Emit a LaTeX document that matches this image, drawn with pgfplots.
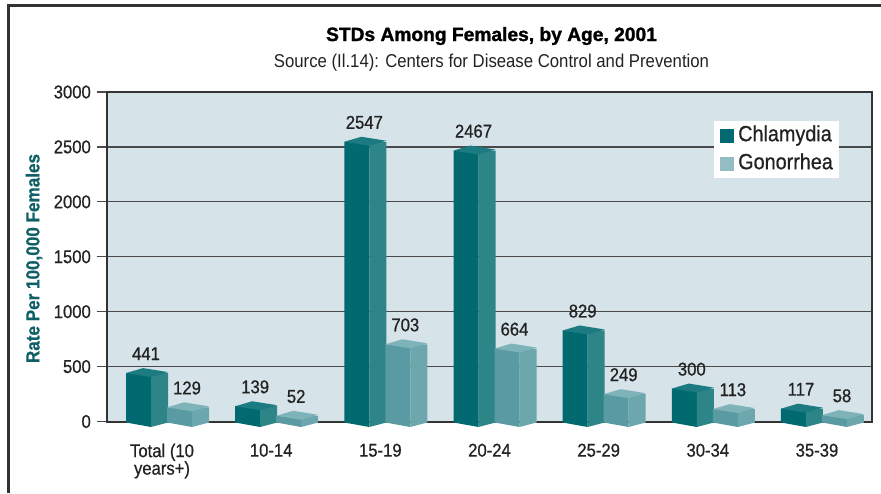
\documentclass[border=0pt]{standalone}
\usepackage{pgfplots}
\pgfplotsset{compat=1.18}
\usepackage{pgfplotstable}
\usepackage{fontspec}
\setmainfont{Liberation Sans}[FakeStretch=0.9]
\newfontfamily\medfont{Liberation Sans}[FakeStretch=0.9, FakeBold=0.7]
\newfontfamily\titlefont{Liberation Sans Bold}[FakeBold=1.4]
\newfontfamily\ylabfont{Liberation Sans Bold}[FakeStretch=0.9, FakeBold=0.6]

\definecolor{chfront}{HTML}{006A70}
\definecolor{chside}{HTML}{2E8588}
\definecolor{chtop}{HTML}{1C7B80}
\definecolor{gofront}{HTML}{5A9AA2}
\definecolor{goside}{HTML}{6CA7AE}
\definecolor{gotop}{HTML}{7DB3B9}
\definecolor{golegend}{HTML}{93BCC4}
\definecolor{bgcol}{HTML}{D6E4EA}
\definecolor{gridcol}{HTML}{4A4A4A}
\definecolor{framecol}{HTML}{333333}
\definecolor{ylabcol}{HTML}{0E5F66}
\definecolor{txtcol}{HTML}{222222}

\pgfplotstableread{
x ch go base
0 441 129 0
1 139 52 0
2 2547 703 0
3 2467 664 0
4 829 249 0
5 300 113 0
6 117 58 0
}\datatable

% top faces (drawn at the data value)
\pgfdeclareplotmark{chtopface}{%
  \pgfsetfillcolor{chtop}%
  \pgfpathmoveto{\pgfpoint{-36pt}{0pt}}%
  \pgfpathlineto{\pgfpoint{-11pt}{-4pt}}%
  \pgfpathlineto{\pgfpoint{6pt}{1pt}}%
  \pgfpathlineto{\pgfpoint{-19pt}{5pt}}%
  \pgfpathclose
  \pgfusepath{fill}%
}
\pgfdeclareplotmark{gotopface}{%
  \pgfsetfillcolor{gotop}%
  \pgfpathmoveto{\pgfpoint{5pt}{0pt}}%
  \pgfpathlineto{\pgfpoint{30pt}{-4pt}}%
  \pgfpathlineto{\pgfpoint{47pt}{1pt}}%
  \pgfpathlineto{\pgfpoint{22pt}{5pt}}%
  \pgfpathclose
  \pgfusepath{fill}%
}
% bottom wedges (drawn at the base value 0)
\pgfdeclareplotmark{chbotface}{%
  \pgfsetfillcolor{chfront}%
  \pgfpathmoveto{\pgfpoint{-36pt}{0.5pt}}%
  \pgfpathlineto{\pgfpoint{-11pt}{0.5pt}}%
  \pgfpathlineto{\pgfpoint{-11pt}{-5.5pt}}%
  \pgfpathlineto{\pgfpoint{-36pt}{-1pt}}%
  \pgfpathclose
  \pgfusepath{fill}%
  \pgfsetfillcolor{chside}%
  \pgfpathmoveto{\pgfpoint{-11pt}{0.5pt}}%
  \pgfpathlineto{\pgfpoint{6pt}{0.5pt}}%
  \pgfpathlineto{\pgfpoint{6pt}{-1pt}}%
  \pgfpathlineto{\pgfpoint{-11pt}{-5.5pt}}%
  \pgfpathclose
  \pgfusepath{fill}%
}
\pgfdeclareplotmark{gobotface}{%
  \pgfsetfillcolor{gofront}%
  \pgfpathmoveto{\pgfpoint{5pt}{0.5pt}}%
  \pgfpathlineto{\pgfpoint{30pt}{0.5pt}}%
  \pgfpathlineto{\pgfpoint{30pt}{-5.5pt}}%
  \pgfpathlineto{\pgfpoint{5pt}{-1pt}}%
  \pgfpathclose
  \pgfusepath{fill}%
  \pgfsetfillcolor{goside}%
  \pgfpathmoveto{\pgfpoint{30pt}{0.5pt}}%
  \pgfpathlineto{\pgfpoint{47pt}{0.5pt}}%
  \pgfpathlineto{\pgfpoint{47pt}{-1pt}}%
  \pgfpathlineto{\pgfpoint{30pt}{-5.5pt}}%
  \pgfpathclose
  \pgfusepath{fill}%
}

\begin{document}
\begin{tikzpicture}
\useasboundingbox (0pt,0pt) rectangle (881pt,-493pt);
\draw[line width=2.5pt, color=framecol] (8.3pt,-493pt) -- (8.3pt,-5.5pt) -- (881pt,-5.5pt);
\node[anchor=base, inner sep=0pt, text=black, font=\titlefont\fontsize{19.2}{20}\selectfont] at (491.5pt,-41pt) {STDs Among Females, by Age, 2001};
\node[anchor=base, inner sep=0pt, text=txtcol, font=\fontsize{18.6}{20}\selectfont] at (491.5pt,-67.7pt) {Source (Il.14): Centers for Disease Control and Prevention};
\begin{axis}[
  at={(107pt,-421.5pt)}, anchor=south west,
  scale only axis, width=765pt, height=329.5pt,
  xmin=-0.504, xmax=6.504, ymin=0, ymax=3000,
  clip=false,
  axis background/.style={fill=bgcol},
  axis line style={line width=2pt, draw=framecol},
  ymajorgrids, grid style={line width=1.3pt, draw=gridcol},
  ytick={0,500,1000,1500,2000,2500,3000},
  xtick={0,1,2,3,4,5,6},
  xticklabels={{Total (10\\years+)},10-14,15-19,20-24,25-29,30-34,35-39},
  xtick style={draw=none},
  ytick style={line width=1.3pt, draw=gridcol},
  ytick pos=left, xtick pos=bottom,
  tick align=outside, major tick length=10pt,
  /pgf/number format/1000 sep={},
  /pgf/number format/assume math mode=true,
  yticklabel style={font=\medfont\fontsize{18.5}{20}\selectfont, text=txtcol, inner sep=0pt, xshift=-6pt},
  xticklabel style={font=\medfont\fontsize{18.5}{17.5}\selectfont, text=txtcol, align=center, inner sep=0pt, anchor=north, yshift=-12pt},
  ylabel={Rate Per 100,000 Females},
  ylabel style={font=\ylabfont\fontsize{19}{20}\selectfont, text=ylabcol, at={(axis description cs:-0.0954,0.4947)}, anchor=center},
  legend image code/.code={\fill[#1] (0pt,-7pt) rectangle (14pt,7pt);},
  legend style={at={(0.7935,0.912)}, anchor=north west, draw=none, fill=white,
    inner xsep=6pt, inner ysep=4pt, font=\medfont\fontsize{22}{22}\selectfont,
    nodes={inner sep=0pt, text height=16pt, text depth=5pt, text=txtcol},
    row sep=7pt, column sep=4pt},
  legend cell align=left,
]
\addlegendimage{fill=chfront, draw=none}
\addlegendentry{Chlamydia}
\addlegendimage{fill=golegend, draw=none}
\addlegendentry{Gonorrhea}
% Chlamydia
\addplot[forget plot, ybar, bar width=25pt, bar shift=-23.5pt, fill=chfront, draw=none] table[x=x, y=ch] {\datatable};
\addplot[forget plot, ybar, bar width=17pt, bar shift=-2.5pt, fill=chside, draw=none] table[x=x, y=ch] {\datatable};
\addplot[forget plot, only marks, mark=chbotface] table[x=x, y=base] {\datatable};
\addplot[forget plot, only marks, mark=chtopface,
  nodes near coords,
  every node near coord/.append style={font=\medfont\fontsize{18.5}{20}\selectfont, text=txtcol, anchor=base, inner sep=0pt, xshift=-16pt, yshift=13pt}]
  table[x=x, y=ch] {\datatable};
% Gonorrhea
\addplot[forget plot, ybar, bar width=25pt, bar shift=17.5pt, fill=gofront, draw=none] table[x=x, y=go] {\datatable};
\addplot[forget plot, ybar, bar width=17pt, bar shift=38.5pt, fill=goside, draw=none] table[x=x, y=go] {\datatable};
\addplot[forget plot, only marks, mark=gobotface] table[x=x, y=base] {\datatable};
\addplot[forget plot, only marks, mark=gotopface,
  nodes near coords,
  every node near coord/.append style={font=\medfont\fontsize{18.5}{20}\selectfont, text=txtcol, anchor=base, inner sep=0pt, xshift=25pt, yshift=13pt}]
  table[x=x, y=go] {\datatable};
\end{axis}
\end{tikzpicture}
\end{document}
